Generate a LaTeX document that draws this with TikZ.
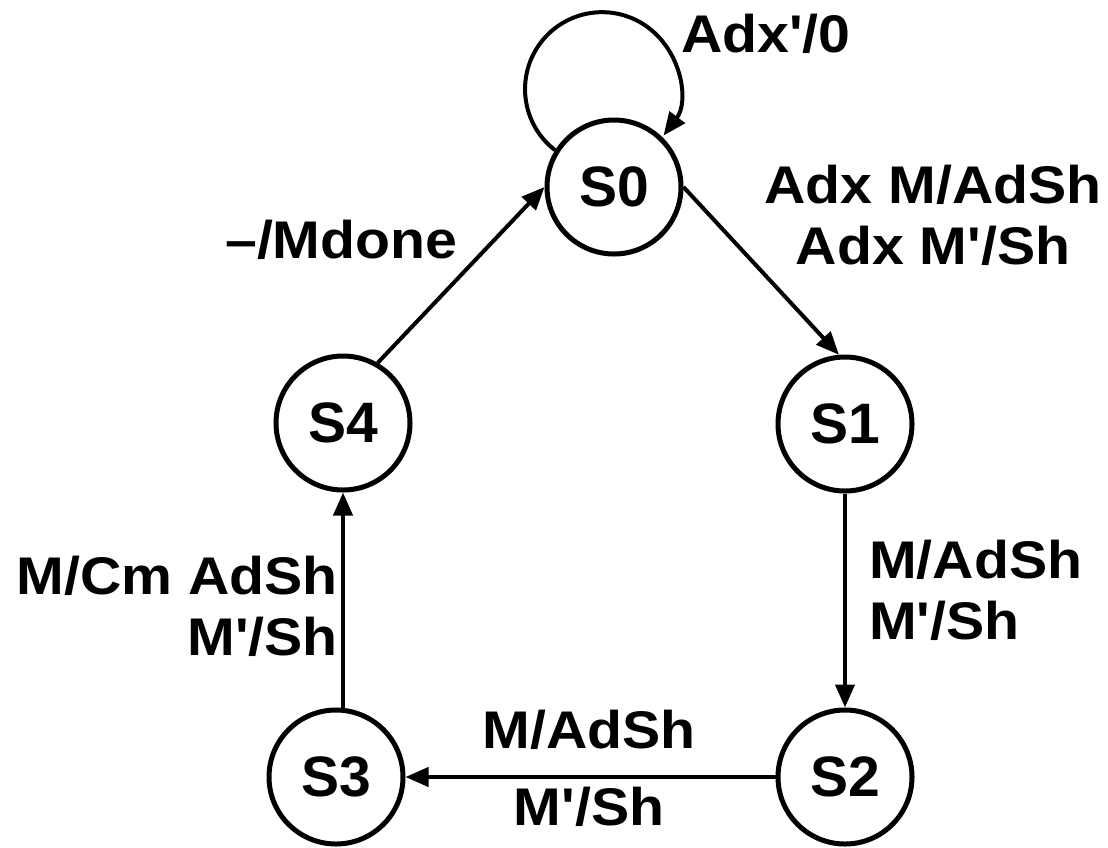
\documentclass[tikz,border=0pt]{standalone}
\usepackage{fontspec}
\newfontfamily\arialfam{Liberation Sans}
\newfontfamily\arialwide{Liberation Sans}[FakeStretch=1.08]
\usetikzlibrary{arrows.meta}
\begin{document}
\begin{tikzpicture}[x=1pt,y=-1pt,
  state/.style={circle, draw, line width=5pt, minimum size=134pt, inner sep=0pt,
    font=\arialfam\bfseries\fontsize{57}{60}\selectfont},
  lbl/.style={font=\arialwide\bfseries\fontsize{53}{61}\selectfont, inner sep=0pt},
  trans/.style={line width=4pt, -{Triangle[length=23pt,width=19pt]}}]
\useasboundingbox (0,0) rectangle (1108,847);

% states
\node[state] (s0) at (614,187) {S0};
\node[state] (s1) at (845,424) {S1};
\node[state] (s4) at (343,423) {S4};
\node[state] (s2) at (845,777) {S2};
\node[state] (s3) at (336,777) {S3};

% transitions
\draw[trans] (s0.148) arc[start angle=127.6, end angle=397, radius=77];
\draw[trans] (s0.east) -- (s1.95);
\draw[trans] (s1.south) -- (s2.north);
\draw[trans] (s2.west) -- (s3.east);
\draw[trans] (s4.south |- s3.north) -- (s4.south);
\draw[trans] (s4.60) -- (s0.west);

% transition labels
\node[lbl, anchor=base west] (l00) at (681,52) {Adx'/0};
\node[lbl, anchor=north, align=center] (l01) at (933,165) {Adx M/AdSh\\Adx M'/Sh};
\node[lbl, anchor=north west, align=left] (l12) at (869,540) {M/AdSh\\M'/Sh};
\node[lbl, anchor=base] (l23a) at (589,748) {M/AdSh};
\node[lbl, anchor=base] (l23b) at (589,825) {M'/Sh};
\node[lbl, anchor=north east, align=right] (l34) at (338,556) {M/Cm AdSh\\M'/Sh};
\node[lbl, anchor=base west] (l40) at (225,258) {–/Mdone};
\end{tikzpicture}
\end{document}
